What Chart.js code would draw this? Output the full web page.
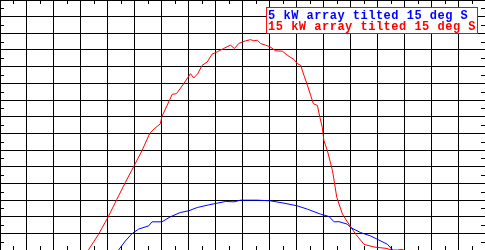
<!DOCTYPE html>
<html>
<head>
<meta charset="utf-8">
<script src="https://cdn.jsdelivr.net/npm/chart.js@4.4.0/dist/chart.umd.min.js"></script>
<style>
  body { margin: 0; background: #fff; }
  #wrap { width: 485px; height: 250px; }
</style>
</head>
<body>
<div id="wrap"><canvas id="mycanvas" width="485" height="250"></canvas></div>
<script>
// hour of day / output (kW)
var redHours = [7.28, 7.66, 7.99, 8.34, 8.65, 8.98, 9.27, 9.55, 9.68, 9.95, 10.01, 10.20, 10.39, 10.55, 10.82,
  11.07, 11.19, 11.34, 11.50, 11.69, 11.87, 12.06, 12.30, 12.55, 12.70, 12.86, 13.11, 13.30, 13.42, 13.55,
  13.67, 13.86, 14.02, 14.23, 14.48, 14.66, 14.91, 15.03, 15.16, 15.28, 15.41, 15.53, 15.63, 15.78, 15.87,
  15.96, 16.02, 16.15, 16.34, 16.50, 16.71, 16.95, 17.20, 17.51, 17.88, 18.32, 18.54, 18.76, 18.89, 18.99];
var redKw = [0, 0.95, 1.91, 3.05, 4.05, 5.06, 5.96, 6.97, 7.21, 7.57, 8.01, 8.67, 9.34, 9.38, 9.98,
  10.58, 10.32, 10.58, 11.08, 11.28, 11.75, 11.89, 12.09, 12.29, 12.09, 12.39, 12.55, 12.62, 12.55, 12.59,
  12.39, 12.29, 12.19, 11.95, 11.93, 11.69, 11.43, 11.19, 11.08, 10.48, 9.88, 9.28, 8.78, 8.67, 7.97,
  7.37, 6.57, 5.96, 4.76, 3.15, 2.15, 1.55, 0.95, 0.34, 0.18, 0.10, 0, 0, 0.04, 0];

var blueHours = [8.40, 8.65, 8.90, 9.14, 9.52, 9.64, 10.01, 10.32, 10.69, 11.00, 11.32, 11.75, 12.06, 12.37,
  12.68, 12.93, 13.55, 14.04, 14.54, 15.03, 15.41, 15.90, 16.21, 16.40, 16.58, 16.89, 17.02, 17.39, 17.76,
  18.01, 18.38, 18.57];
var blueKw = [0, 0.54, 0.98, 1.25, 1.45, 1.69, 1.69, 1.99, 2.25, 2.35, 2.55, 2.71, 2.81, 2.91,
  2.89, 2.99, 2.99, 2.95, 2.81, 2.65, 2.45, 2.15, 2.01, 1.69, 1.70, 1.55, 1.34, 1.04, 0.84,
  0.64, 0.34, 0];

var labels = ['5 kW array tilted 15 deg S', '15 kW array tilted 15 deg S'];
var xMin = 4, xMax = 22;
var yMin = 0, yMax = 15;

function pts(xs, ys) {
  var out = [];
  for (var i in xs) out.push({x: xs[i], y: ys[i]});
  return out;
}

// little inward ticks halfway between grid lines
var minorTicks = {
  id: 'minorTicks',
  afterDraw: function(chart) {
    var c = chart.ctx, a = chart.chartArea;
    var xs = chart.scales.x, ys = chart.scales.y;
    c.save();
    c.strokeStyle = '#000';
    c.lineWidth = 1;
    c.beginPath();
    for (var v = xMin + 0.5; v < xMax; v++) {
      var px = Math.round(xs.getPixelForValue(v)) + 0.5;
      c.moveTo(px, a.top); c.lineTo(px, a.top + 4);
      c.moveTo(px, a.bottom); c.lineTo(px, a.bottom - 4);
    }
    for (var w = yMin + 0.5; w < yMax; w++) {
      var py = Math.round(ys.getPixelForValue(w)) + 0.5;
      c.moveTo(a.left, py); c.lineTo(a.left + 4, py);
      c.moveTo(a.right, py); c.lineTo(a.right - 4, py);
    }
    c.stroke();
    c.restore();
  }
};

// boxed key, top right
var keyBox = {
  id: 'keyBox',
  afterDraw: function(chart) {
    var c = chart.ctx, a = chart.chartArea;
    c.save();
    c.font = 'bold 12px "Liberation Mono"';
    if ('letterSpacing' in c) c.letterSpacing = '0.5px';
    var wMax = 0;
    chart.data.datasets.forEach(function(d) {
      wMax = Math.max(wMax, c.measureText(d.label).width);
    });
    var right = a.right - 7.5, top = a.top + 7.5;
    var left = right - wMax - 3;
    c.fillStyle = '#fff';
    c.fillRect(left, top, right - left, 26);
    c.strokeStyle = 'red';
    c.lineWidth = 1;
    c.strokeRect(left, top, right - left, 26);
    c.textBaseline = 'alphabetic';
    chart.data.datasets.forEach(function(d, i) {
      c.fillStyle = d.borderColor;
      c.fillText(d.label, left + 1.5, top + 11 + i * 11);
    });
    c.restore();
  }
};

var ctx = document.getElementById('mycanvas');
var chart = new Chart(ctx, {
  type: 'line',
  data: {
    datasets: [
      { label: labels[0], data: pts(blueHours, blueKw), borderColor: 'blue', borderWidth: 1, pointRadius: 0, tension: 0 },
      { label: labels[1], data: pts(redHours, redKw), borderColor: 'red', borderWidth: 1, pointRadius: 0, tension: 0 }
    ]
  },
  options: {
    responsive: false,
    animation: false,
    devicePixelRatio: 1,
    layout: { padding: 0 },
    plugins: { legend: { display: false }, tooltip: { enabled: false } },
    scales: {
      x: {
        type: 'linear', min: xMin, max: xMax,
        ticks: { display: false, count: 19, maxTicksLimit: 100 },
        grid: { color: '#000', lineWidth: 1, drawTicks: false },
        border: { display: true, color: '#000' }
      },
      y: {
        min: yMin, max: yMax,
        ticks: { display: false, count: 16, maxTicksLimit: 100 },
        grid: { color: '#000', lineWidth: 1, drawTicks: false },
        border: { display: true, color: '#000' }
      }
    }
  },
  plugins: [minorTicks, keyBox]
});
</script>
</body>
</html>
